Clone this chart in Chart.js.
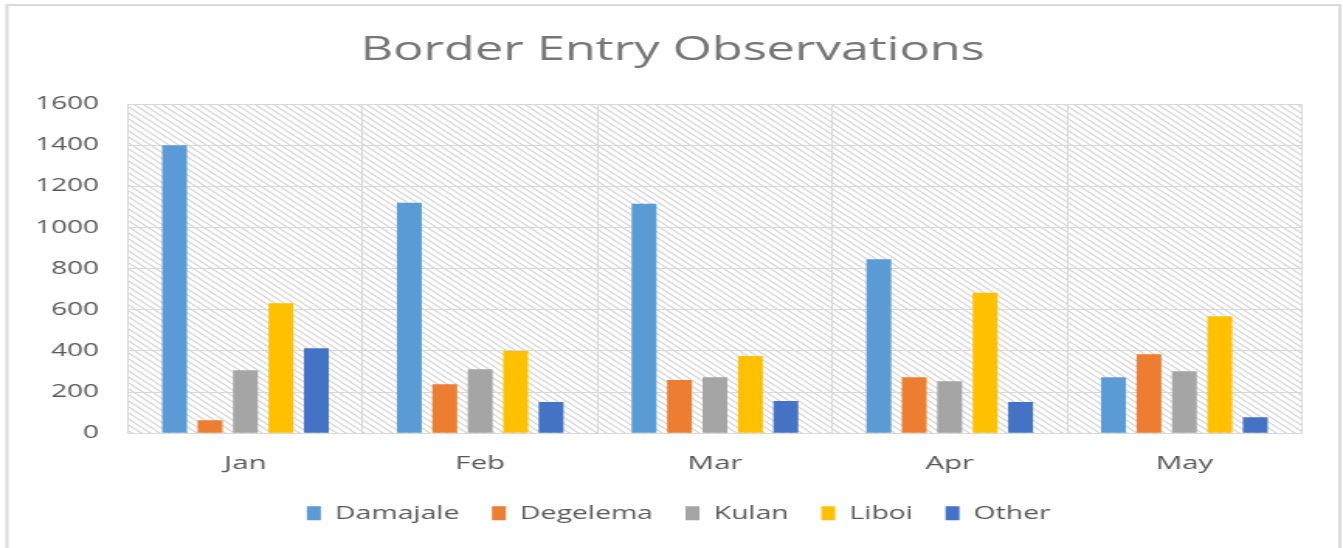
<!DOCTYPE html>
<html>
<head>
<meta charset="utf-8">
<script src="https://cdn.jsdelivr.net/npm/chart.js@4.4.0/dist/chart.umd.min.js"></script>
<style>
  html, body { margin: 0; padding: 0; background: #ffffff; overflow: hidden; }
</style>
</head>
<body>
<canvas id="c" width="866" height="548" style="display:block;width:1343px;height:548px;"></canvas>
<script>
// ---- data ----
const months = ['Jan', 'Feb', 'Mar', 'Apr', 'May'];
const damajale = [1400, 1120, 1115, 845, 272];
const degelema = [63, 238, 258, 272, 384];
const kulan = [306, 311, 272, 253, 301];
const liboi = [632, 400, 375, 683, 569];
const other = [413, 152, 156, 152, 78];
const yTickValues = [0, 200, 400, 600, 800, 1000, 1200, 1400, 1600];
const seriesNames = ['Damajale', 'Degelema', 'Kulan', 'Liboi', 'Other'];
const seriesColors = ['#5B9BD5', '#ED7D31', '#A5A5A5', '#FFC000', '#4472C4'];
const chartTitle = 'Border Entry Observations';

// ---- rendering ----
// The reference is horizontally stretched; draw at a logical width and stretch via CSS.
const hatchPlugin = {
  id: 'hatchBg',
  afterLayout(chart) {
    if (chart.legend) { chart.legend.left += 18; chart.legend.right += 18; }
    if (chart.titleBlock) { chart.titleBlock.left += 14; chart.titleBlock.right += 14; }
  },
  beforeDraw(chart) {
    const { ctx, chartArea: a } = chart;
    ctx.save();
    ctx.fillStyle = '#ffffff';
    ctx.fillRect(0, 0, chart.width, chart.height);
    const tile = document.createElement('canvas');
    tile.width = 6; tile.height = 6;
    const t = tile.getContext('2d');
    t.strokeStyle = '#d4d4d4';
    t.lineWidth = 1.2;
    t.beginPath();
    t.moveTo(-1, -1); t.lineTo(7, 7);
    t.moveTo(-1, 5); t.lineTo(1, 7);
    t.moveTo(5, -1); t.lineTo(7, 1);
    t.stroke();
    ctx.fillStyle = ctx.createPattern(tile, 'repeat');
    ctx.fillRect(a.left, a.top, a.right - a.left, a.bottom - a.top);
    ctx.strokeStyle = '#d9d9d9';
    ctx.lineWidth = 2;
    ctx.strokeRect(4.5, 5, chart.width - 6.5, chart.height + 20);
    ctx.restore();
  }
};

Chart.defaults.font.family = "'Open Sans', 'DejaVu Sans', sans-serif";
Chart.defaults.color = '#595959';

const datasets = [damajale, degelema, kulan, liboi, other].map((vals, i) => ({
  label: seriesNames[i],
  data: vals,
  backgroundColor: seriesColors[i],
  borderWidth: 0,
  categoryPercentage: 0.755,
  barPercentage: 0.70
}));

new Chart(document.getElementById('c'), {
  type: 'bar',
  data: { labels: months, datasets },
  options: {
    responsive: false,
    devicePixelRatio: 1,
    animation: false,
    layout: { padding: { left: 0, right: 26.6, top: 0, bottom: 15.5 } },
    plugins: {
      title: {
        display: true,
        text: chartTitle,
        color: '#767676',
        font: { size: 32.5, weight: 'normal' },
        padding: { top: 31, bottom: 34 }
      },
      legend: {
        position: 'bottom',
        labels: {
          boxWidth: 9,
          boxHeight: 14,
          padding: 21,
          color: '#595959',
          font: { size: 18.3 }
        }
      },
      tooltip: { enabled: false }
    },
    scales: {
      x: {
        grid: { color: '#d9d9d9', lineWidth: 1, drawTicks: false, offset: true },
        border: { display: true, color: '#d9d9d9', width: 1 },
        ticks: { padding: 18.6, color: '#595959', font: { size: 19 } },
        afterFit(scale) { scale.height = 50; }
      },
      y: {
        min: 0,
        max: 1600,
        afterBuildTicks(scale) { scale.ticks = yTickValues.map(v => ({ value: v })); },
        grid: { color: '#d9d9d9', lineWidth: 1, drawTicks: false },
        border: { display: false },
        ticks: { padding: 18.7, color: '#595959', font: { size: 18 }, callback: v => String(v) },
        afterFit(scale) { scale.width = 82.6; }
      }
    }
  },
  plugins: [hatchPlugin]
});
</script>
</body>
</html>
